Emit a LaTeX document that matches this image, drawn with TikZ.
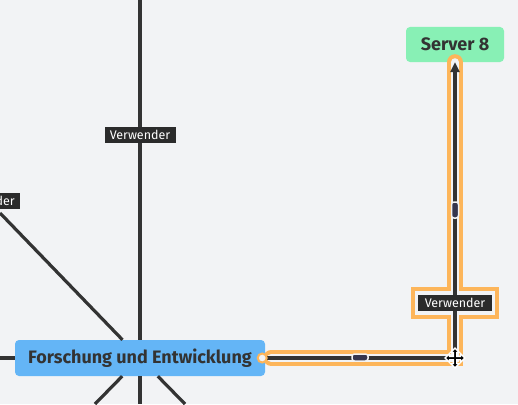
\documentclass[tikz,border=0pt]{standalone}
\usepackage{fontspec}
\setmainfont{Fira Sans}
\usetikzlibrary{arrows.meta}

\definecolor{bgcol}{HTML}{F2F3F5}
\definecolor{linecol}{HTML}{333333}
\definecolor{selcol}{HTML}{FDB55A}
\definecolor{fecol}{HTML}{64B5F6}
\definecolor{srvcol}{HTML}{88F0B5}
\definecolor{tagcol}{HTML}{2B2B2B}
\definecolor{gripcol}{HTML}{35354D}

\begin{document}
\begin{tikzpicture}[x=1pt,y=-1pt]
		\tikzset{topic/.style = {rounded corners=4pt, inner sep=0pt, text=linecol, font=\bfseries\fontsize{18}{20}\selectfont},
			edge/.style = {draw=linecol, line width=3.2pt},
			tag/.style = {fill=tagcol, text=white, font=\fontsize{12.5}{14}\selectfont, inner sep=0pt, minimum width=71pt, minimum height=16pt},
			grip/.style = {fill=gripcol, draw=bgcol, line width=1.5pt, rounded corners=2.5pt, inner sep=0pt}}

		\fill[bgcol] (0,0) rectangle (518,404);
		\useasboundingbox (0,0) rectangle (518,404);

		\node[topic, fill=fecol, minimum width=250pt, minimum height=36pt] (FE) at (140,358) {Forschung und Entwicklung};
		\node[topic, fill=srvcol, minimum width=98pt, minimum height=35pt] (S_8) at (455,44.5) {Server 8};

		\coordinate (T_up) at (140,0);
		\coordinate (T_down) at (140,404);
		\coordinate (T_left) at (0,358);
		\coordinate (T_ul) at (0,213);
		\coordinate (T_dl) at (95,404);
		\coordinate (T_dr) at (185,404);
		\coordinate (C_1) at (455,358);

		\draw[edge] (T_up) -- (FE);
		\draw[edge] (FE) -- (T_down);
		\draw[edge] (T_left) -- (FE);
		\draw[edge] (T_ul) -- (FE);
		\draw[edge] (FE) -- (T_dl);
		\draw[edge] (FE) -- (T_dr);

		\node[tag] (V_1) at (140,135) {Verwender};
		\node[tag] (V_2) at (-15.5,201) {Verwender};

		% selected connector
		\draw[selcol, line width=16pt, line cap=round] ([xshift=6pt]FE.east) -- (C_1) -- (S_8.south);
		\fill[selcol] (411,287) rectangle (499,319);
		\draw[bgcol, line width=8pt, line cap=round] ([xshift=6pt]FE.east) -- (C_1) -- (S_8.south);
		\fill[bgcol] (415,291) rectangle (495,315);
		\draw[edge, -{Triangle[length=10pt,width=9pt]}] (FE.east) -- (C_1) -- (S_8.south);

		\node[tag, minimum width=74pt] (V_3) at (455,303) {Verwender};
		\node[circle, draw=selcol, line width=2pt, fill=bgcol, minimum size=9pt, inner sep=0pt] (G_0) at ([xshift=-3pt]FE.east) {};
		\node[grip, minimum width=16pt, minimum height=7pt] (G_1) at (360,357.5) {};
		\node[grip, minimum width=7pt, minimum height=16pt] (G_2) at (455,210) {};

		% move cursor
		\filldraw[fill=black, draw=white, line width=1.3pt, shift={(C_1)}, scale=1.1]
			(0,-9) -- (4,-5) -- (1.5,-5) -- (1.5,-1.5) -- (5,-1.5) -- (5,-4) -- (9,0) -- (5,4) -- (5,1.5) -- (1.5,1.5)
			-- (1.5,5) -- (4,5) -- (0,9) -- (-4,5) -- (-1.5,5) -- (-1.5,1.5) -- (-5,1.5) -- (-5,4) -- (-9,0)
			-- (-5,-4) -- (-5,-1.5) -- (-1.5,-1.5) -- (-1.5,-5) -- (-4,-5) -- cycle;

	\end{tikzpicture}
\end{document}
